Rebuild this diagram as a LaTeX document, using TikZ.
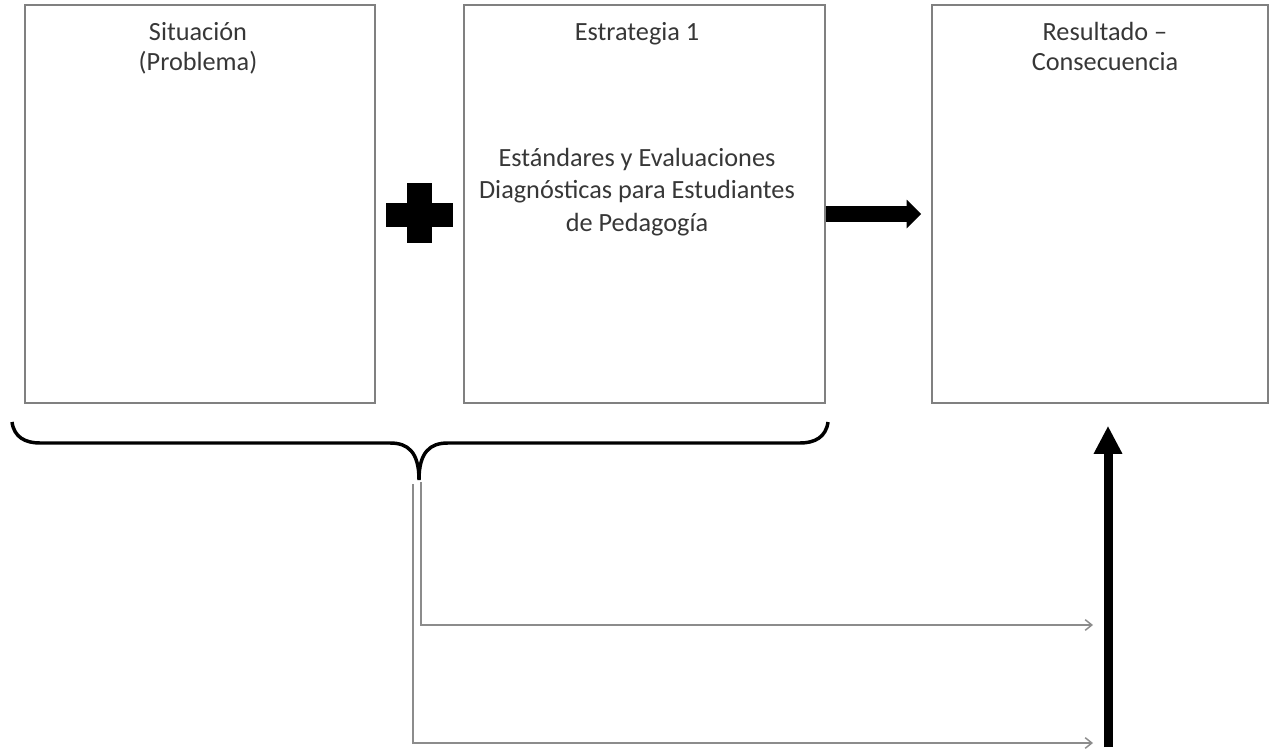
\documentclass[tikz,border=0pt]{standalone}
\usepackage{fontspec}
\setmainfont{Carlito}
\usetikzlibrary{arrows.meta}
\definecolor{boxgray}{RGB}{128,128,128}
\definecolor{txtgray}{RGB}{55,55,55}
\definecolor{linegray}{RGB}{140,140,140}

\begin{document}
\begin{tikzpicture}[x=0.75pt,y=-0.75pt,>=Stealth,
  box/.style={draw=boxgray,line width=1.2pt,minimum width=#1,minimum height=298.5pt,inner sep=0pt},
  txt/.style={text=txtgray,font=\fontsize{19.7}{22.8}\selectfont,align=center,inner sep=0pt},
  fatarrow/.style={line width=12pt,-{Triangle[length=11pt,width=21pt]}},
  uparrow/.style={line width=6.75pt,-{Triangle[length=21pt,width=20pt]},shorten >=16.5pt},
  thinarrow/.style={draw=linegray,line width=1.1pt,-{Straight Barb[length=5pt,width=8pt]}}]
\useasboundingbox (0,0) rectangle (1270,749);
\node[box=262.5pt] (sit) at (200,204){};
\node[box=270.75pt] (strat) at (644.5,204){};
\node[box=252pt] (res) at (1100,204){};
\node[txt,anchor=north] (sitlbl) at (198,22){Situación\\(Problema)};
\node[txt,anchor=north] (stratlbl) at (637,22){Estrategia 1};
\node[txt,anchor=north] (stratdesc) at (637,148){Estándares y Evaluaciones\\[1.5pt]Diagnósticas para Estudiantes\\[1.5pt]de Pedagogía};
\node[txt,anchor=north] (reslbl) at (1105,22){Resultado –\\Consecuencia};
% plus sign
\fill (386,203) rectangle (453,227);
\fill (407,183) rectangle (432,243);
\draw[fatarrow] ([yshift=-7.5pt]strat.east) -- ([xshift=-7.5pt,yshift=-7.5pt]res.west);
% brace under the first two boxes
\coordinate (tip) at (419,480);
\draw[line width=2.6pt] (12,422) .. controls (14,437) and (25,443) .. (40,443) -- (390,443)
  .. controls (408,443) and (419,452) .. (tip) .. controls (419,452) and (430,443) .. (448,443)
  -- (800,443) .. controls (815,443) and (826,437) .. (828,422);
\coordinate (outer) at (413,484);
\coordinate (inner) at (421,482);
\coordinate (endA) at (1093,625);
\coordinate (endB) at (1093,743);
\draw[thinarrow] (inner) |- (endA);
\draw[thinarrow] (outer) |- (endB);
\coordinate (upfoot) at (1108,747);
\draw[uparrow] (upfoot) -- (upfoot |- res.south);
\end{tikzpicture}
\end{document}
